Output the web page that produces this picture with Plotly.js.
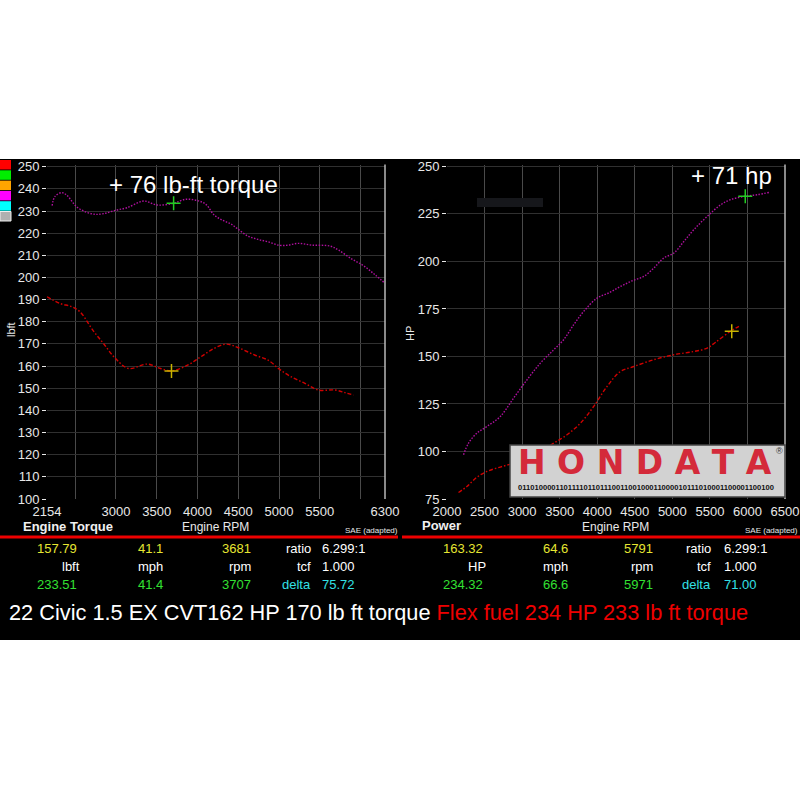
<!DOCTYPE html>
<html>
<head>
<meta charset="utf-8">
<script src="https://cdn.plot.ly/plotly-3.0.1.min.js"></script>
<style>
html,body{margin:0;padding:0;background:#fff;}
#chart{width:800px;height:800px;}
</style>
</head>
<body>
<div id="chart"></div>
<script>
// ---------- data ----------
const torqueRpmFlex = [2217,2250,2333,2395,2518,2642,2744,2847,2991,3136,3341,3506,3707,3856,4000,4103,4205,4309,4412,4494,4618,4741,4865,5008,5112,5235,5400,5626,5729,5894,6038,6181,6300];
const torqueFlex    = [232.4,236.5,238.3,237.2,231.9,229.4,228.5,228.8,230.3,231.5,234.5,232.7,233.5,235.3,234.7,233.0,228.2,225.8,224.1,221.9,218.7,217.2,216.1,214.5,214.6,215.4,214.6,214.2,212.4,208.3,205.3,201.1,197.4];

const torqueRpmStock = [2154,2312,2456,2559,2720,2847,2991,3156,3383,3547,3681,3877,4041,4205,4350,4494,4700,4865,5008,5152,5317,5482,5688,5811,5914];
const torqueStock    = [191.3,188.3,186.8,184.5,176.0,170.2,163.5,158.9,160.9,158.9,157.8,160.4,164.2,168.0,169.9,168.4,165.0,162.7,158.5,155.1,152.2,149.2,149.2,148.0,146.9];

const powerRpmFlex = [2220,2287,2399,2532,2709,2887,3065,3243,3420,3553,3687,3820,3998,4153,4309,4465,4620,4753,4886,5020,5153,5286,5465,5643,5776,5971,6131,6287];
const powerFlex    = [98.3,104.4,109.7,113.2,118.4,128.1,137.7,146.5,153.5,158.8,166.7,173.7,180.7,183.4,186.8,189.8,192.1,196.5,201.8,204.4,210.5,216.7,223.7,229.8,232.5,234.3,235.1,236.3];

const powerRpmStock = [2153,2265,2399,2532,2709,2887,3065,3243,3420,3598,3776,3953,4131,4309,4487,4753,5020,5286,5465,5576,5776,5887];
const powerStock    = [78.4,81.6,86.5,89.5,91.8,93.9,96.5,100.0,104.4,108.8,114.9,123.7,134.2,142.1,144.7,148.3,150.9,152.6,154.4,157.5,163.3,165.8];

// cursor readouts  [stock, flex]
const cursorTorqueRpm = [3681, 3707];
const cursorTorque    = [157.79, 233.51];
const cursorPowerRpm  = [5791, 5971];
const cursorPower     = [163.32, 234.32];

// tick labels
const torqueTickVals = [2154,3000,3500,4000,4500,5000,5500,6300];
const torqueTickText = ['2154','3000','3500','4000','4500','5000','5500','6300'];
const powerTickVals  = [2000,2500,3000,3500,4000,4500,5000,5500,6000,6500];

// readout table texts
const leftRow1  = ['157.79','41.1','3681'];
const leftRow2  = ['lbft','mph','rpm'];
const leftRow3  = ['233.51','41.4','3707'];
const rightRow1 = ['163.32','64.6','5791'];
const rightRow2 = ['HP','mph','rpm'];
const rightRow3 = ['234.32','66.6','5971'];
const leftRatio  = ['6.299:1','1.000','75.72'];
const rightRatio = ['6.299:1','1.000','71.00'];
const ratioLabels = ['ratio','tcf','delta'];
const legendColors = ['#ff0000','#00ee00','#ffa500','#ff00ff','#00ffff','#b0b0b0'];

// ---------- styling ----------
const FONT = 'Liberation Sans, Arial, sans-serif';
const MAG = '#b0109f';
const RED = '#d00000';
const YEL = '#e6e632';
const GRN = '#33e033';
const CYA = '#33e0e6';
const px = v => v/800;
const py = v => 1 - v/800;
const MAG_DASH = '1.5px,1.5px';
const RED_DASH = '4px,2px,1.5px,2px';

const traces = [
  {x: torqueRpmFlex, y: torqueFlex, xaxis:'x', yaxis:'y', mode:'lines', line:{color:MAG, width:1.4, dash:MAG_DASH, shape:'spline'}, hoverinfo:'skip'},
  {x: torqueRpmStock, y: torqueStock, xaxis:'x', yaxis:'y', mode:'lines', line:{color:RED, width:1.4, dash:RED_DASH, shape:'spline'}, hoverinfo:'skip'},
  {x: [cursorTorqueRpm[1]], y: [cursorTorque[1]], xaxis:'x', yaxis:'y', mode:'markers', marker:{symbol:'cross-thin', size:10, line:{color:'#22cc22', width:1.5}}},
  {x: [cursorTorqueRpm[0]], y: [cursorTorque[0]], xaxis:'x', yaxis:'y', mode:'markers', marker:{symbol:'cross-thin', size:10, line:{color:'#c8b400', width:1.5}}},
  {x: powerRpmFlex, y: powerFlex, xaxis:'x2', yaxis:'y2', mode:'lines', line:{color:MAG, width:1.4, dash:MAG_DASH, shape:'spline'}, hoverinfo:'skip'},
  {x: powerRpmStock, y: powerStock, xaxis:'x2', yaxis:'y2', mode:'lines', line:{color:RED, width:1.4, dash:RED_DASH, shape:'spline'}, hoverinfo:'skip'},
  {x: [cursorPowerRpm[1]], y: [cursorPower[1]], xaxis:'x2', yaxis:'y2', mode:'markers', marker:{symbol:'cross-thin', size:10, line:{color:'#22cc22', width:1.5}}},
  {x: [cursorPowerRpm[0]], y: [cursorPower[0]], xaxis:'x2', yaxis:'y2', mode:'markers', marker:{symbol:'cross-thin', size:10, line:{color:'#c8b400', width:1.5}}}
];

const tickFont = {family: FONT, size: 13, color: '#e8e8e8'};
const xCommon = {showline:false, zeroline:false, ticks:'', ticklabelstandoff:3, tickfont:tickFont, gridcolor:'#4a4a4a', gridwidth:1, fixedrange:true};
const yCommon = {showline:false, zeroline:false, ticks:'outside', ticklen:4, tickcolor:'#e8e8e8', tickwidth:1, tickfont:tickFont, gridcolor:'#303030', gridwidth:1, fixedrange:true};

const yDom = [1-499/800, 1-164.5/800];

const layout = {
  width:800, height:800,
  margin:{l:0,r:0,t:0,b:0,pad:0},
  paper_bgcolor:'#ffffff',
  plot_bgcolor:'#000000',
  showlegend:false,
  xaxis: Object.assign({}, xCommon, {domain:[47/800, 385/800], range:[2154,6300], tickmode:'array', tickvals:torqueTickVals, ticktext:torqueTickText,
         minor:{tick0:0, dtick:500, showgrid:true, gridcolor:'#4a4a4a', ticks:''}}),
  yaxis: Object.assign({}, yCommon, {domain:yDom, range:[100,251], dtick:10, tick0:100, anchor:'x'}),
  xaxis2: Object.assign({}, xCommon, {domain:[447/800, 785/800], range:[2000,6500], tickmode:'array', tickvals:powerTickVals, anchor:'y2'}),
  yaxis2: Object.assign({}, yCommon, {domain:yDom, range:[75,251], dtick:25, tick0:75, anchor:'x2'}),
  shapes: [],
  annotations: []
};

// black band
layout.shapes.push({type:'rect', xref:'paper', yref:'paper', x0:0, x1:1, y0:py(640), y1:py(159), fillcolor:'#000', line:{width:0}, layer:'below'});
// right-edge lines of plots
layout.shapes.push({type:'line', xref:'x domain', yref:'y domain', x0:1, x1:1, y0:0, y1:1, line:{color:'#b8b8b8', width:1.5}});
layout.shapes.push({type:'line', xref:'x2 domain', yref:'y2 domain', x0:1, x1:1, y0:0, y1:1, line:{color:'#b8b8b8', width:1.5}});
// red separator
layout.shapes.push({type:'line', xref:'paper', yref:'paper', x0:0, x1:px(398), y0:py(537), y1:py(537), line:{color:'#ee0000', width:3}});
layout.shapes.push({type:'line', xref:'paper', yref:'paper', x0:px(402), x1:1, y0:py(537), y1:py(537), line:{color:'#ee0000', width:3}});
// legend squares
legendColors.forEach((c,i) => {
  layout.shapes.push({type:'rect', xref:'paper', yref:'paper', x0:0, x1:px(11), y0:py(160+i*10.3+9.5), y1:py(160+i*10.3), fillcolor:c,
    line:{color: i===5 ? '#eeeeee' : c, width: i===5 ? 1 : 0}});
});
// dim box in power plot
layout.shapes.push({type:'rect', xref:'paper', yref:'paper', x0:px(477), x1:px(543), y0:py(207), y1:py(198), fillcolor:'#16171b', line:{width:0}});
// Hondata logo plate
layout.shapes.push({type:'rect', xref:'paper', yref:'paper', x0:px(510), x1:px(785), y0:py(497), y1:py(445), fillcolor:'#d2d2d2', line:{color:'#444', width:1.5}, layer:'above'});

const A = layout.annotations;
function txt(t, x, y, opts) {
  A.push(Object.assign({text:t, x:px(x), y:py(y), xref:'paper', yref:'paper', showarrow:false,
    xanchor:'center', yanchor:'middle', font:{family:FONT, size:13, color:'#ffffff'}}, opts||{}));
}
// axis titles
txt('lbft', 11, 330, {textangle:-90, font:{family:FONT, size:11, color:'#e8e8e8'}});
txt('HP', 410, 333, {textangle:-90, font:{family:FONT, size:11, color:'#e8e8e8'}});
txt('<b>Engine Torque</b>', 21, 526, {xanchor:'left', font:{family:FONT, size:13, color:'#f0f0f0'}});
txt('Engine RPM', 215, 527, {font:{family:FONT, size:12, color:'#e8e8e8'}});
txt('SAE (adapted)', 400, 530, {xanchor:'right', font:{family:FONT, size:8, color:'#e8e8e8'}});
txt('<b>Power</b>', 420, 525, {xanchor:'left', font:{family:FONT, size:13, color:'#f0f0f0'}});
txt('Engine RPM', 615, 527, {font:{family:FONT, size:12, color:'#e8e8e8'}});
txt('SAE (adapted)', 800, 530, {xanchor:'right', font:{family:FONT, size:8, color:'#e8e8e8'}});
// headline gains
txt('+ 76 lb-ft torque', 107, 185, {xanchor:'left', font:{family:FONT, size:24, color:'#ffffff'}});
txt('+ 71 hp', 774, 176, {xanchor:'right', font:{family:FONT, size:24, color:'#ffffff'}});

// readout table
const colsL = [57, 150, 236];
const colsR = [463, 555, 638];
const rowsY = [548, 566, 584];
[[leftRow1, leftRow2, leftRow3, colsL, leftRatio, 300, 320], [rightRow1, rightRow2, rightRow3, colsR, rightRatio, 700, 722]].forEach(([r1, r2, r3, cols, ratio, labX, valX]) => {
  r1.forEach((t,i) => txt(t, cols[i], rowsY[0], {font:{family:FONT, size:13, color:YEL}}));
  r2.forEach((t,i) => txt(t, cols[i] + (i===0 ? 14 : (i===2 ? 4 : 0)), rowsY[1], {font:{family:FONT, size:13, color:'#ffffff'}}));
  r3.forEach((t,i) => txt(t, cols[i], rowsY[2], {font:{family:FONT, size:13, color:GRN}}));
  ratioLabels.forEach((t,i) => txt(t, labX + 13, rowsY[i], {xanchor:'right', font:{family:FONT, size:13, color: i===2 ? CYA : '#ffffff'}}));
  ratio.forEach((t,i) => txt(t, valX, rowsY[i], {xanchor:'left', font:{family:FONT, size:13, color: i===2 ? CYA : '#ffffff'}}));
});

// bottom caption
txt('22 Civic 1.5 EX CVT162 HP 170 lb ft torque <span style="color:#ee0000">Flex fuel 234 HP 233 lb ft torque</span>', 7, 612,
    {xanchor:'left', font:{family:FONT, size:21.75, color:'#ffffff'}});

// logo text
txt('<b>H O N D A T A</b>', 645, 462, {font:{family:'DejaVu Sans, sans-serif', size:33, color:'#d42a3a'}});
txt('®', 779, 451, {font:{family:FONT, size:9, color:'#333'}});
txt('<b>01101000011011110110111001100100011000010111010001100001100100</b>', 646, 487, {font:{family:FONT, size:7.6, color:'#111'}});

Plotly.newPlot('chart', traces, layout, {staticPlot:true, displayModeBar:false});
</script>
</body>
</html>
